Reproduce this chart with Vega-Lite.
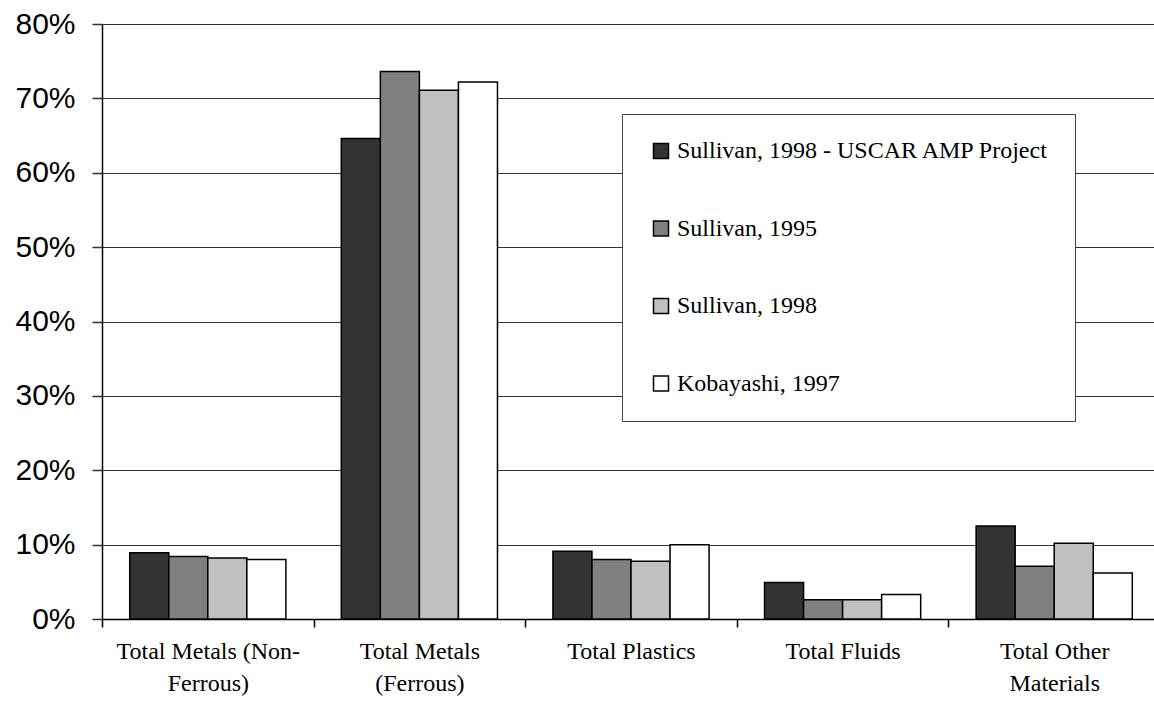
{
  "$schema": "https://vega.github.io/schema/vega-lite/v6.json",
  "autosize": "none",
  "width": 1058,
  "height": 595,
  "padding": {"left": 102, "top": 24, "right": -6, "bottom": 87},
  "background": "white",
  "data": {
    "values": [
      {"category": "Total Metals (Non-Ferrous)", "source": "Sullivan, 1998 - USCAR AMP Project", "share": 0.089},
      {"category": "Total Metals (Non-Ferrous)", "source": "Sullivan, 1995", "share": 0.084},
      {"category": "Total Metals (Non-Ferrous)", "source": "Sullivan, 1998", "share": 0.082},
      {"category": "Total Metals (Non-Ferrous)", "source": "Kobayashi, 1997", "share": 0.080},
      {"category": "Total Metals (Ferrous)", "source": "Sullivan, 1998 - USCAR AMP Project", "share": 0.646},
      {"category": "Total Metals (Ferrous)", "source": "Sullivan, 1995", "share": 0.736},
      {"category": "Total Metals (Ferrous)", "source": "Sullivan, 1998", "share": 0.711},
      {"category": "Total Metals (Ferrous)", "source": "Kobayashi, 1997", "share": 0.722},
      {"category": "Total Plastics", "source": "Sullivan, 1998 - USCAR AMP Project", "share": 0.091},
      {"category": "Total Plastics", "source": "Sullivan, 1995", "share": 0.080},
      {"category": "Total Plastics", "source": "Sullivan, 1998", "share": 0.0775},
      {"category": "Total Plastics", "source": "Kobayashi, 1997", "share": 0.100},
      {"category": "Total Fluids", "source": "Sullivan, 1998 - USCAR AMP Project", "share": 0.049},
      {"category": "Total Fluids", "source": "Sullivan, 1995", "share": 0.026},
      {"category": "Total Fluids", "source": "Sullivan, 1998", "share": 0.026},
      {"category": "Total Fluids", "source": "Kobayashi, 1997", "share": 0.033},
      {"category": "Total Other Materials", "source": "Sullivan, 1998 - USCAR AMP Project", "share": 0.125},
      {"category": "Total Other Materials", "source": "Sullivan, 1995", "share": 0.071},
      {"category": "Total Other Materials", "source": "Sullivan, 1998", "share": 0.102},
      {"category": "Total Other Materials", "source": "Kobayashi, 1997", "share": 0.062}
    ]
  },
  "mark": {"type": "bar", "stroke": "black", "strokeWidth": 1.5},
  "encoding": {
    "x": {
      "field": "category",
      "type": "nominal",
      "sort": null,
      "scale": {"paddingInner": 0, "paddingOuter": 0},
      "axis": {
        "title": null,
        "labelAngle": 0,
        "tickBand": "extent",
        "labelFont": "Liberation Serif",
        "labelFontSize": 24,
        "labelColor": "black",
        "labelLineHeight": 32,
        "labelPadding": 12,
        "labelBaseline": "top",
        "labelLimit": 0,
        "tickSize": 8,
        "tickColor": "black",
        "tickWidth": 1.5,
        "domainColor": "black",
        "domainWidth": 1.5,
        "grid": false,
        "labelExpr": "datum.label == 'Total Metals (Non-Ferrous)' ? ['Total Metals (Non-', 'Ferrous)'] : datum.label == 'Total Metals (Ferrous)' ? ['Total Metals', '(Ferrous)'] : datum.label == 'Total Other Materials' ? ['Total Other', 'Materials'] : datum.label"
      }
    },
    "xOffset": {
      "field": "source",
      "type": "nominal",
      "sort": ["Sullivan, 1998 - USCAR AMP Project", "Sullivan, 1995", "Sullivan, 1998", "Kobayashi, 1997"],
      "scale": {"paddingInner": 0, "paddingOuter": 0.71}
    },
    "y": {
      "field": "share",
      "type": "quantitative",
      "scale": {"domain": [0, 0.8], "nice": false, "zero": true},
      "axis": {
        "title": null,
        "format": ".0%",
        "values": [0, 0.1, 0.2, 0.3, 0.4, 0.5, 0.6, 0.7, 0.8],
        "labelFont": "Liberation Sans",
        "labelFontSize": 30,
        "labelColor": "black",
        "labelPadding": 17,
        "tickSize": 10,
        "tickColor": "#333333",
        "tickWidth": 1.5,
        "domainColor": "black",
        "domainWidth": 1.5,
        "grid": true,
        "gridColor": "#333333",
        "gridWidth": 1.2
      }
    },
    "color": {
      "field": "source",
      "type": "nominal",
      "sort": ["Sullivan, 1998 - USCAR AMP Project", "Sullivan, 1995", "Sullivan, 1998", "Kobayashi, 1997"],
      "scale": {
        "domain": ["Sullivan, 1998 - USCAR AMP Project", "Sullivan, 1995", "Sullivan, 1998", "Kobayashi, 1997"],
        "range": ["#333333", "#808080", "#c0c0c0", "#ffffff"]
      },
      "legend": {
        "title": null,
        "orient": "none",
        "legendX": 520,
        "legendY": 90,
        "direction": "vertical",
        "fillColor": "white",
        "strokeColor": "#444444",
        "padding": 25,
        "symbolOffset": 2,
        "symbolType": "square",
        "symbolSize": 225,
        "symbolStrokeColor": "black",
        "symbolStrokeWidth": 1.5,
        "labelFont": "Liberation Serif",
        "labelFontSize": 24,
        "labelColor": "black",
        "labelOffset": 4,
        "labelLimit": 0,
        "rowPadding": 53.5
      }
    }
  },
  "config": {
    "view": {"stroke": null}
  }
}
